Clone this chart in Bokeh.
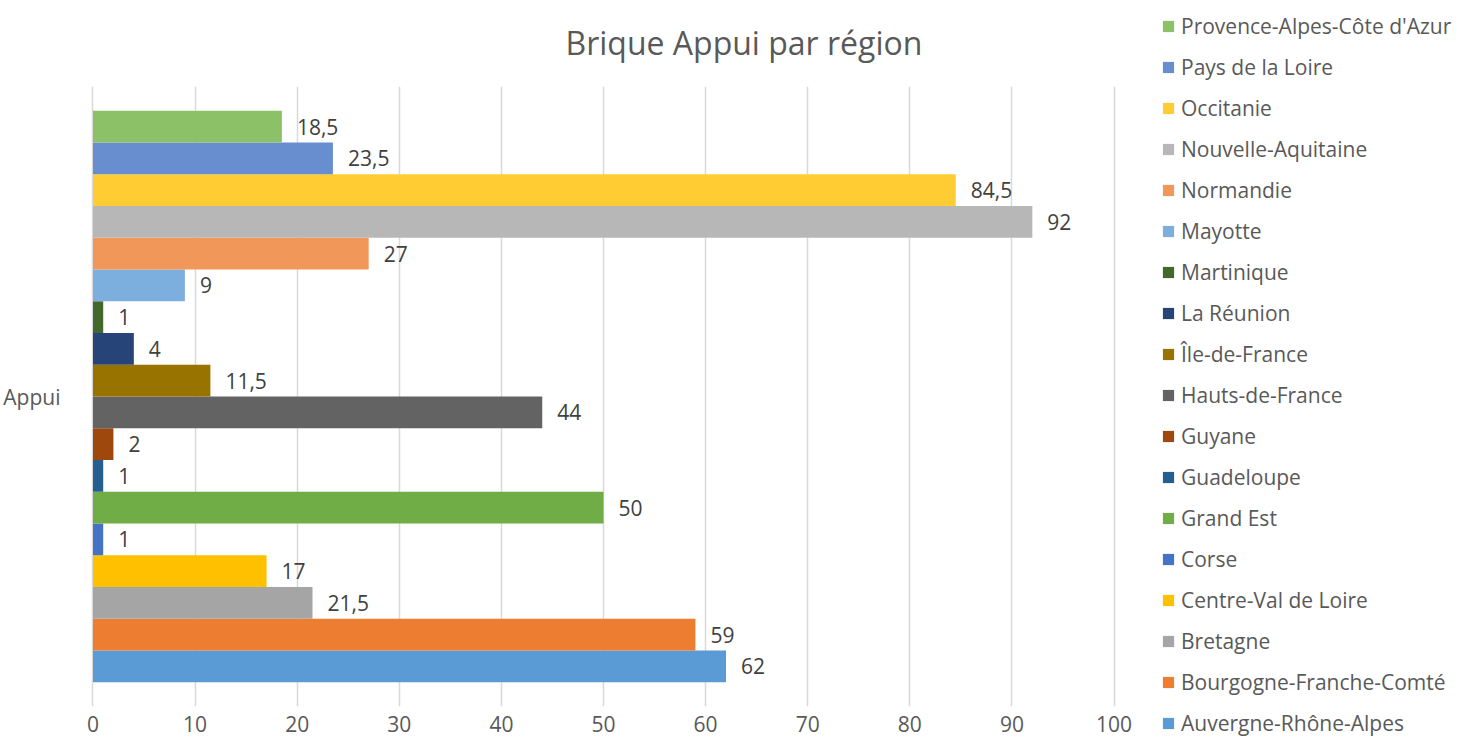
from bokeh.plotting import figure
from bokeh.layouts import row
from bokeh.models import ColumnDataSource, Legend, LegendItem, FactorRange, Range1d, FixedTicker
from bokeh.transform import dodge
from bokeh.core.properties import value
from bokeh.embed import file_html
from bokeh.resources import INLINE

# Data (Excel series order: first series drawn at the bottom)
category = ["Appui"]
regions = [
    "Auvergne-Rhône-Alpes", "Bourgogne-Franche-Comté", "Bretagne", "Centre-Val de Loire",
    "Corse", "Grand Est", "Guadeloupe", "Guyane", "Hauts-de-France", "Île-de-France",
    "La Réunion", "Martinique", "Mayotte", "Normandie", "Nouvelle-Aquitaine", "Occitanie",
    "Pays de la Loire", "Provence-Alpes-Côte d'Azur",
]
values = [62, 59, 21.5, 17, 1, 50, 1, 2, 44, 11.5, 4, 1, 9, 27, 92, 84.5, 23.5, 18.5]
colors = [
    "#5B9BD5", "#ED7D31", "#A5A5A5", "#FFC000", "#4472C4", "#70AD47", "#255E91", "#9E480E",
    "#636363", "#997300", "#264478", "#43682B", "#7CAFDD", "#F1975A", "#B7B7B7", "#FFCD33",
    "#698ED0", "#8CC168",
]
x_ticks = [0, 10, 20, 30, 40, 50, 60, 70, 80, 90, 100]

FONT = "Open Sans"
TXT = "#595959"

# ---------------- main chart ----------------
p = figure(width=1146, height=734,
           y_range=FactorRange(factors=category, range_padding=0),
           x_range=Range1d(-0.538, 103.18),
           output_backend="svg", toolbar_location=None, min_border=0)

p.outline_line_color = None
p.background_fill_color = "white"
p.border_fill_color = "white"

n = len(regions)
band = 0.9215
h = band / n

for i, (name, v, c) in enumerate(zip(regions, values, colors)):
    off = (i - (n - 1) / 2) * h
    lab = f"{v:g}".replace(".", ",")
    src = ColumnDataSource(dict(y=category, x=[v], lab=[lab]))
    p.hbar(y=dodge("y", off, range=p.y_range), left=0, right="x", height=h,
           fill_color=c, line_color=None, source=src)
    p.text(x="x", y=dodge("y", off, range=p.y_range), text="lab", source=src,
           x_offset=15, text_baseline="middle", text_align="left",
           text_font=value(FONT), text_font_size="21px", text_color="#404040")

# Title
p.title.text = "Brique Appui par région"
p.title.align = "left"
p.title.offset = 478
p.title.standoff = 41
p.title.vertical_align = "top"
p.title.text_font = FONT
p.title.text_font_size = "32px"
p.title.text_font_style = "normal"
p.title.text_color = TXT

# Axes
p.xaxis.ticker = FixedTicker(ticks=x_ticks)
p.xaxis.axis_line_color = None
p.xaxis.major_tick_line_color = None
p.xaxis.minor_tick_line_color = None
p.xaxis.major_label_standoff = 3
p.xaxis.major_label_text_font = FONT
p.xaxis.major_label_text_font_size = "21px"
p.xaxis.major_label_text_color = TXT

p.yaxis.axis_line_color = None
p.yaxis.major_tick_line_color = None
p.yaxis.minor_tick_line_color = None
p.yaxis.major_label_standoff = 21
p.yaxis.major_label_text_font = FONT
p.yaxis.major_label_text_font_size = "21px"
p.yaxis.major_label_text_color = TXT

p.xgrid.ticker = FixedTicker(ticks=x_ticks)
p.xgrid.grid_line_color = "#D9D9D9"
p.xgrid.grid_line_width = 1.5
p.ygrid.grid_line_color = None

# ---------------- legend panel ----------------
lg = figure(width=299, height=734, x_range=Range1d(0, 1), y_range=Range1d(0, 1),
            x_axis_location=None, y_axis_location=None, title=None,
            output_backend="svg", toolbar_location=None, min_border=0)
lg.outline_line_color = None
lg.xgrid.grid_line_color = None
lg.ygrid.grid_line_color = None
lg.background_fill_color = "white"
lg.border_fill_color = "white"

items = []
for name, c in reversed(list(zip(regions, colors))):
    # swatch renderer: its single bar lies entirely outside the visible ranges of this panel
    r = lg.hbar(y=[-5], left=[5], right=[6], height=0.5, fill_color=c, line_color=None)
    items.append(LegendItem(label=name, renderers=[r]))

legend = Legend(
    items=items,
    location=(15, -31),
    orientation="vertical",
    glyph_width=14, glyph_height=14, label_height=29, spacing=12,
    padding=3, margin=0, label_standoff=6,
    label_text_font=FONT, label_text_font_size="21px", label_text_color=TXT,
    border_line_color=None, background_fill_alpha=0,
)
lg.add_layout(legend, "left")

layout = row(p, lg)
open("out.html", "w").write(file_html(layout, INLINE))
